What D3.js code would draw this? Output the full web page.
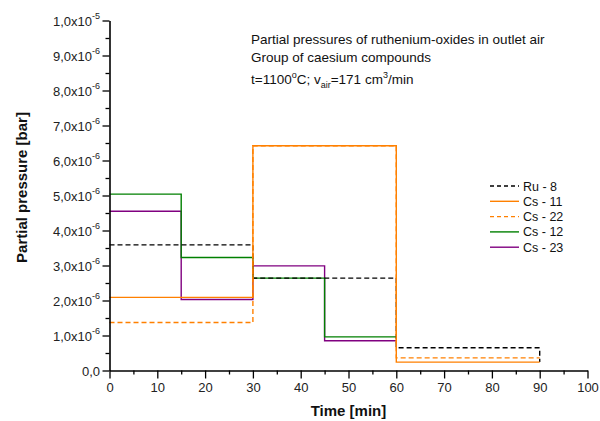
<!DOCTYPE html>
<html>
<head>
<meta charset="utf-8">
<script src="https://cdn.jsdelivr.net/npm/d3@7"></script>
<style>
  html, body { margin: 0; padding: 0; background: #fff; }
  svg { display: block; font-family: "Liberation Sans", Arial, sans-serif; }
</style>
</head>
<body>
<svg id="chart" width="600" height="421"></svg>
<script>
// Step data: time [min] at the start of each interval, partial pressure [bar]
const seriesNames = ["Ru - 8", "Cs - 11", "Cs - 22", "Cs - 12", "Cs - 23"];
const ru8Time  = [0, 15, 30, 45, 60, 75, 90];
const ru8Value = [3.59e-6, 3.59e-6, 2.64e-6, 2.64e-6, 0.65e-6, 0.65e-6, 0.24e-6];
const cs11Time  = [0, 30, 60, 90];
const cs11Value = [2.09e-6, 6.42e-6, 0.24e-6, 0.24e-6];
const cs22Time  = [0, 30, 60, 90];
const cs22Value = [1.37e-6, 6.42e-6, 0.36e-6, 0.36e-6];
const cs12Time  = [0, 15, 30, 45, 60];
const cs12Value = [5.04e-6, 3.23e-6, 2.64e-6, 0.96e-6, 0.96e-6];
const cs23Time  = [0, 15, 30, 45, 60];
const cs23Value = [4.55e-6, 2.03e-6, 2.99e-6, 0.85e-6, 0.85e-6];

const seriesColors = ["#000000", "#ff8000", "#ff8000", "#008000", "#800080"];
const seriesDashes = ["5,3", null, "5,3", null, null];

// Axis ticks and their labels
const xTicks = [0, 10, 20, 30, 40, 50, 60, 70, 80, 90, 100];
const yTicks = [0, 1e-6, 2e-6, 3e-6, 4e-6, 5e-6, 6e-6, 7e-6, 8e-6, 9e-6, 1e-5];
const yTickMantissa = ["0,0", "1,0x10", "2,0x10", "3,0x10", "4,0x10", "5,0x10",
                       "6,0x10", "7,0x10", "8,0x10", "9,0x10", "1,0x10"];
const yTickExponent = ["", "-6", "-6", "-6", "-6", "-6", "-6", "-6", "-6", "-6", "-5"];

const svg = d3.select("#chart");

const x = d3.scaleLinear().domain([0, 100]).range([109.5, 587.5]);
const y = d3.scaleLinear().domain([0, 1e-5]).range([370.5, 20.5]);

// Minor ticks
const xMinor = d3.range(5, 100, 10);
const yMinor = d3.range(0.5e-6, 1e-5, 1e-6);

svg.append("g")
  .attr("transform", `translate(0,${y(0)})`)
  .call(d3.axisBottom(x).tickValues(xMinor).tickSize(4).tickFormat("").tickSizeOuter(0))
  .call(g => g.select(".domain").remove())
  .selectAll("line").attr("stroke", "#000").attr("stroke-width", 1.3);

svg.append("g")
  .attr("transform", `translate(${x(0)},0)`)
  .call(d3.axisLeft(y).tickValues(yMinor).tickSize(4).tickFormat("").tickSizeOuter(0))
  .call(g => g.select(".domain").remove())
  .selectAll("line").attr("stroke", "#000").attr("stroke-width", 1.3);

// Series lines
const line = d3.line().curve(d3.curveStepAfter).x(d => x(d[0])).y(d => y(d[1]));
const seriesTimes = [ru8Time, cs11Time, cs22Time, cs12Time, cs23Time];
const seriesValues = [ru8Value, cs11Value, cs22Value, cs12Value, cs23Value];

const drawOrder = [4, 3, 0, 1, 2];
drawOrder.forEach(i => {
  const pts = seriesTimes[i].map((t, k) => [t, seriesValues[i][k]]);
  svg.append("path")
    .datum(pts)
    .attr("d", line)
    .attr("fill", "none")
    .attr("stroke", seriesColors[i])
    .attr("stroke-width", 1.4)
    .attr("stroke-dasharray", seriesDashes[i]);
});

// Major ticks and axis lines
const xAxis = svg.append("g")
  .attr("transform", `translate(0,${y(0)})`)
  .call(d3.axisBottom(x).tickValues(xTicks).tickSize(8).tickSizeOuter(0).tickPadding(4));
xAxis.select(".domain").attr("stroke", "#000").attr("stroke-width", 1.6);
xAxis.selectAll("line").attr("stroke", "#000").attr("stroke-width", 1.3);
xAxis.selectAll("text")
  .attr("font-size", 13)
  .attr("font-family", "Liberation Sans, Arial, sans-serif")
  .attr("fill", "#222");

const yAxis = svg.append("g")
  .attr("transform", `translate(${x(0)},0)`)
  .call(d3.axisLeft(y).tickValues(yTicks).tickSize(7).tickSizeOuter(0).tickFormat(""));
yAxis.select(".domain").attr("stroke", "#000").attr("stroke-width", 1.6);
yAxis.selectAll("line").attr("stroke", "#000").attr("stroke-width", 1.3);

// Y tick labels with superscript exponents
yTicks.forEach((v, i) => {
  const t = svg.append("text")
    .attr("x", 100)
    .attr("y", y(v) + 5)
    .attr("text-anchor", "end")
    .attr("font-size", 13)
    .attr("fill", "#222");
  t.append("tspan").text(yTickMantissa[i]);
  if (yTickExponent[i]) {
    t.append("tspan").attr("dy", -6.5).attr("font-size", 9).text(yTickExponent[i]);
  }
});

// Axis titles
svg.append("text")
  .attr("x", (x(0) + x(100)) / 2)
  .attr("y", 416)
  .attr("text-anchor", "middle")
  .attr("font-size", 15)
  .attr("font-weight", "bold")
  .attr("fill", "#111")
  .text("Time [min]");

svg.append("text")
  .attr("transform", `translate(27,${(y(0) + y(1e-5)) / 2 - 8}) rotate(-90)`)
  .attr("text-anchor", "middle")
  .attr("font-size", 15)
  .attr("font-weight", "bold")
  .attr("fill", "#111")
  .text("Partial pressure [bar]");

// Annotation block
const note = svg.append("g").attr("font-size", 13.5).attr("fill", "#111");
note.append("text").attr("x", 251).attr("y", 44)
  .text("Partial pressures of ruthenium-oxides in outlet air");
note.append("text").attr("x", 251).attr("y", 62)
  .text("Group of caesium compounds");
const cond = note.append("text").attr("x", 251).attr("y", 84);
cond.append("tspan").text("t=1100");
cond.append("tspan").attr("dy", -6).attr("font-size", 9).text("o");
cond.append("tspan").attr("dy", 6).text("C; v");
cond.append("tspan").attr("dy", 4).attr("font-size", 9).text("air");
cond.append("tspan").attr("dy", -4).text("=171 cm");
cond.append("tspan").attr("dy", -6).attr("font-size", 9).text("3");
cond.append("tspan").attr("dy", 6).text("/min");

// Legend
const legend = svg.append("g");
seriesNames.forEach((name, i) => {
  const ly = 186 + i * 15.3;
  legend.append("line")
    .attr("x1", 490).attr("x2", 519)
    .attr("y1", ly).attr("y2", ly)
    .attr("stroke", seriesColors[i])
    .attr("stroke-width", 1.4)
    .attr("stroke-dasharray", seriesDashes[i] ? "4,3" : null);
  legend.append("text")
    .attr("x", 523).attr("y", ly + 4.5)
    .attr("font-size", 12.5)
    .attr("fill", "#111")
    .text(name);
});
</script>
</body>
</html>
